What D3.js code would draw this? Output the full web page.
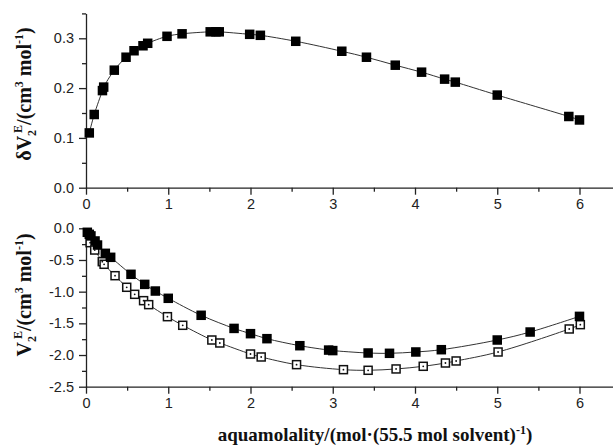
<!DOCTYPE html>
<html>
<head>
<meta charset="utf-8">
<script src="https://cdn.jsdelivr.net/npm/d3@7"></script>
<style>
  body { margin: 0; background: #fff; }
  .tick text { font-family: "Liberation Sans", Arial, sans-serif; font-size: 14.5px; fill: #222; }
  .domain, .tick line { stroke: #222; stroke-width: 1.3px; }
  .title { font-family: "Liberation Serif", "Times New Roman", serif; font-weight: bold; fill: #111; }
</style>
</head>
<body>
<script>
// top panel: delta V2E, filled squares
const topX = [0.04, 0.10, 0.20, 0.215, 0.344, 0.487, 0.584, 0.693, 0.75, 0.985, 1.168, 1.51, 1.58, 1.62,
  1.99, 2.12, 2.55, 3.11, 3.41, 3.76, 4.08, 4.36, 4.49, 5.0, 5.87, 6.0]
const topY = [0.110, 0.147, 0.195, 0.202, 0.236, 0.262, 0.275, 0.285, 0.290, 0.304, 0.309, 0.313, 0.313, 0.313,
  0.308, 0.306, 0.294, 0.274, 0.262, 0.246, 0.232, 0.218, 0.212, 0.186, 0.143, 0.136]

// bottom panel: V2E, filled squares
const filledX = [0.016, 0.04, 0.06, 0.11, 0.14, 0.235, 0.30, 0.547, 0.714, 0.843, 1.0, 1.40, 1.80, 2.0, 2.20, 2.60,
  2.95, 3.0, 3.43, 3.69, 4.01, 4.32, 5.0, 5.40, 6.0]
const filledY = [-0.063, -0.095, -0.12, -0.20, -0.264, -0.395, -0.458, -0.726, -0.885, -0.99, -1.105, -1.373, -1.58,
  -1.663, -1.742, -1.853, -1.922, -1.93, -1.968, -1.973, -1.952, -1.916, -1.763, -1.637, -1.39]

// bottom panel: V2E, open squares
const openX = [0.05, 0.106, 0.198, 0.22, 0.353, 0.495, 0.592, 0.70, 0.762, 0.99, 1.176, 1.53, 1.627,
  2.0, 2.13, 2.56, 3.13, 3.43, 3.77, 4.10, 4.37, 4.50, 5.01, 5.875, 6.01]
const openY = [-0.227, -0.343, -0.527, -0.568, -0.748, -0.931, -1.042, -1.142, -1.205, -1.395, -1.531, -1.763, -1.81,
  -1.984, -2.031, -2.152, -2.231, -2.241, -2.22, -2.178, -2.126, -2.094, -1.952, -1.589, -1.521]

const xTicks = [0, 1, 2, 3, 4, 5, 6]
const topTicks = [0.0, 0.1, 0.2, 0.3]
const botTicks = [0.0, -0.5, -1.0, -1.5, -2.0, -2.5]

const W = 613, H = 445
const LEFT = 86

const svg = d3.select("body").append("svg")
  .attr("width", W)
  .attr("height", H)

const x = d3.scaleLinear().domain([0, 6.5]).range([LEFT, LEFT + 6.5 * 82.25])
const yTop = d3.scaleLinear().domain([0, 0.35]).range([187.7, 13.4])
const yBot = d3.scaleLinear().domain([-2.5, 0]).range([386.7, 228.3])

const fmt = d => d.toFixed(1)
const zip = (a, b) => a.map((v, i) => [v, b[i]])

function drawAxes(y, ticks, minor, xPos) {
  // minor ticks
  svg.append("g")
    .attr("transform", `translate(0, ${xPos})`)
    .call(d3.axisBottom(x).tickValues(d3.range(0.5, 6.6, 1)).tickSize(4).tickFormat(""))
    .call(g => g.select(".domain").remove())
  svg.append("g")
    .attr("transform", `translate(${LEFT}, 0)`)
    .call(d3.axisLeft(y).tickValues(minor).tickSize(4).tickFormat(""))
    .call(g => g.select(".domain").remove())
  // major
  svg.append("g")
    .attr("transform", `translate(0, ${xPos})`)
    .call(d3.axisBottom(x).tickValues(xTicks).tickSize(7).tickSizeOuter(0).tickPadding(4).tickFormat(d3.format("d")))
  svg.append("g")
    .attr("transform", `translate(${LEFT}, 0)`)
    .call(d3.axisLeft(y).tickValues(ticks).tickSize(7).tickSizeOuter(0).tickPadding(5).tickFormat(fmt))
}

drawAxes(yTop, topTicks, [0.05, 0.15, 0.25, 0.35], 187.7)
drawAxes(yBot, botTicks, [-0.25, -0.75, -1.25, -1.75, -2.25], 386.7)

function series(data, y, open) {
  const line = d3.line()
    .x(d => x(d[0]))
    .y(d => y(d[1]))
    .curve(d3.curveCatmullRom)
  svg.append("path")
    .datum(data)
    .attr("d", line)
    .attr("fill", "none")
    .attr("stroke", "#333")
    .attr("stroke-width", 1)

  const s = open ? 8 : 9.5
  svg.append("g").selectAll("rect")
    .data(data)
    .join("rect")
    .attr("x", d => x(d[0]) - s / 2)
    .attr("y", d => y(d[1]) - s / 2)
    .attr("width", s)
    .attr("height", s)
    .attr("fill", open ? "#fff" : "#000")
    .attr("stroke", open ? "#111" : "none")
    .attr("stroke-width", 1.5)
  if (open) {
    svg.append("g").selectAll("circle")
      .data(data)
      .join("circle")
      .attr("cx", d => x(d[0]))
      .attr("cy", d => y(d[1]))
      .attr("r", 0.9)
      .attr("fill", "#111")
  }
}

series(zip(topX, topY), yTop, false)
series(zip(openX, openY), yBot, true)
series(zip(filledX, filledY), yBot, false)

// axis titles
function yTitle(cx, cy, prefix) {
  const t = svg.append("text")
    .attr("class", "title")
    .attr("font-size", 20)
    .attr("text-anchor", "middle")
    .attr("transform", `translate(${cx}, ${cy}) rotate(-90)`)
  t.append("tspan").text(prefix)
  t.append("tspan").attr("font-size", 12).attr("dy", 5).text("2")
  t.append("tspan").attr("font-size", 12).attr("dy", -14).attr("dx", -3).text("E")
  t.append("tspan").attr("dy", 9).text("/(cm")
  t.append("tspan").attr("font-size", 12).attr("dy", -8).text("3")
  t.append("tspan").attr("dy", 8).text(" mol")
  t.append("tspan").attr("font-size", 12).attr("dy", -8).text("-1")
  t.append("tspan").attr("dy", 8).text(")")
}
yTitle(31, 94, "δV")
yTitle(31, 295, "V")

const t3 = svg.append("text")
  .attr("class", "title")
  .attr("font-size", 19)
  .attr("text-anchor", "middle")
  .attr("x", 375)
  .attr("y", 441)
t3.append("tspan").text("aquamolality/(mol·(55.5 mol solvent)")
t3.append("tspan").attr("font-size", 12).attr("dy", -7).text("-1")
t3.append("tspan").attr("dy", 7).text(")")
</script>
</body>
</html>
